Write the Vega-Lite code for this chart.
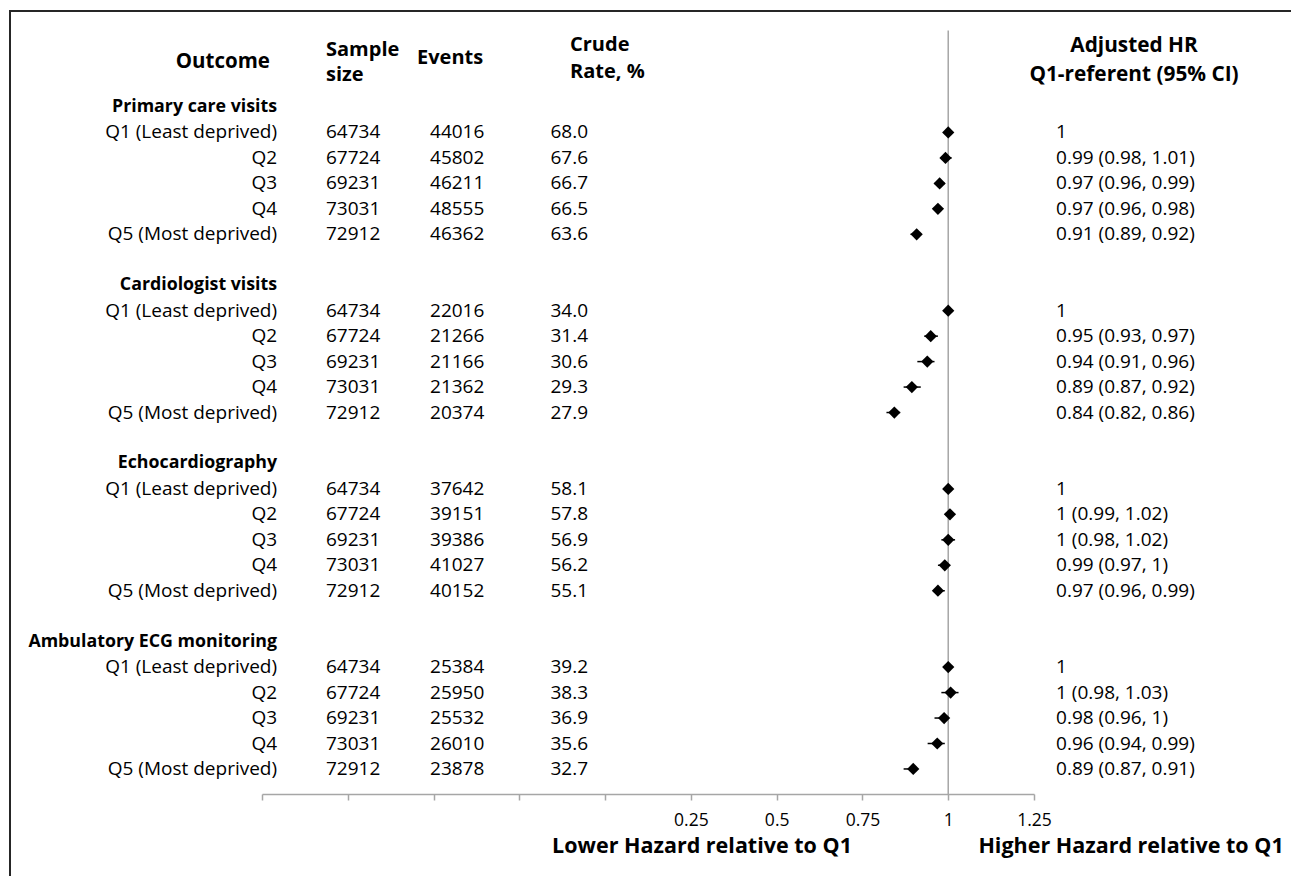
{
  "$schema": "https://vega.github.io/schema/vega-lite/v6.json",
  "usermeta": {"embedOptions": {"actions": false}},
  "autosize": {"type": "none"},
  "padding": {"left": 10, "top": 11, "right": -20, "bottom": -20},
  "width": 1301,
  "height": 885,
  "background": "white",
  "config": {
    "view": {"stroke": "#262626", "strokeWidth": 2},
    "font": "Open Sans",
    "text": {"font": "Open Sans", "fontSize": 19, "color": "#000", "baseline": "middle"}
  },
  "datasets": {
    "rows": [
      {"key": "pc_h", "type": "g", "label": "Primary care visits"},
      {"key": "pc1", "type": "q", "label": "Q1 (Least deprived)", "n": 64734, "events": 44016, "rate": 68.0, "hr": 1, "hrText": "1"},
      {"key": "pc2", "type": "q", "label": "Q2", "n": 67724, "events": 45802, "rate": 67.6, "hr": 0.992, "lo": 0.98, "hi": 1.01, "hrText": "0.99 (0.98, 1.01)"},
      {"key": "pc3", "type": "q", "label": "Q3", "n": 69231, "events": 46211, "rate": 66.7, "hr": 0.975, "lo": 0.96, "hi": 0.99, "hrText": "0.97 (0.96, 0.99)"},
      {"key": "pc4", "type": "q", "label": "Q4", "n": 73031, "events": 48555, "rate": 66.5, "hr": 0.97, "lo": 0.96, "hi": 0.98, "hrText": "0.97 (0.96, 0.98)"},
      {"key": "pc5", "type": "q", "label": "Q5 (Most deprived)", "n": 72912, "events": 46362, "rate": 63.6, "hr": 0.908, "lo": 0.89, "hi": 0.92, "hrText": "0.91 (0.89, 0.92)"},
      {"key": "cv_h", "type": "g", "label": "Cardiologist visits"},
      {"key": "cv1", "type": "q", "label": "Q1 (Least deprived)", "n": 64734, "events": 22016, "rate": 34.0, "hr": 1, "hrText": "1"},
      {"key": "cv2", "type": "q", "label": "Q2", "n": 67724, "events": 21266, "rate": 31.4, "hr": 0.949, "lo": 0.93, "hi": 0.97, "hrText": "0.95 (0.93, 0.97)"},
      {"key": "cv3", "type": "q", "label": "Q3", "n": 69231, "events": 21166, "rate": 30.6, "hr": 0.939, "lo": 0.91, "hi": 0.96, "hrText": "0.94 (0.91, 0.96)"},
      {"key": "cv4", "type": "q", "label": "Q4", "n": 73031, "events": 21362, "rate": 29.3, "hr": 0.894, "lo": 0.87, "hi": 0.92, "hrText": "0.89 (0.87, 0.92)"},
      {"key": "cv5", "type": "q", "label": "Q5 (Most deprived)", "n": 72912, "events": 20374, "rate": 27.9, "hr": 0.843, "lo": 0.82, "hi": 0.86, "hrText": "0.84 (0.82, 0.86)"},
      {"key": "ec_h", "type": "g", "label": "Echocardiography"},
      {"key": "ec1", "type": "q", "label": "Q1 (Least deprived)", "n": 64734, "events": 37642, "rate": 58.1, "hr": 1, "hrText": "1"},
      {"key": "ec2", "type": "q", "label": "Q2", "n": 67724, "events": 39151, "rate": 57.8, "hr": 1.005, "lo": 0.99, "hi": 1.02, "hrText": "1 (0.99, 1.02)"},
      {"key": "ec3", "type": "q", "label": "Q3", "n": 69231, "events": 39386, "rate": 56.9, "hr": 1.0, "lo": 0.98, "hi": 1.02, "hrText": "1 (0.98, 1.02)"},
      {"key": "ec4", "type": "q", "label": "Q4", "n": 73031, "events": 41027, "rate": 56.2, "hr": 0.99, "lo": 0.97, "hi": 1.0, "hrText": "0.99 (0.97, 1)"},
      {"key": "ec5", "type": "q", "label": "Q5 (Most deprived)", "n": 72912, "events": 40152, "rate": 55.1, "hr": 0.97, "lo": 0.96, "hi": 0.99, "hrText": "0.97 (0.96, 0.99)"},
      {"key": "am_h", "type": "g", "label": "Ambulatory ECG monitoring"},
      {"key": "am1", "type": "q", "label": "Q1 (Least deprived)", "n": 64734, "events": 25384, "rate": 39.2, "hr": 1, "hrText": "1"},
      {"key": "am2", "type": "q", "label": "Q2", "n": 67724, "events": 25950, "rate": 38.3, "hr": 1.007, "lo": 0.98, "hi": 1.03, "hrText": "1 (0.98, 1.03)"},
      {"key": "am3", "type": "q", "label": "Q3", "n": 69231, "events": 25532, "rate": 36.9, "hr": 0.988, "lo": 0.96, "hi": 1.0, "hrText": "0.98 (0.96, 1)"},
      {"key": "am4", "type": "q", "label": "Q4", "n": 73031, "events": 26010, "rate": 35.6, "hr": 0.968, "lo": 0.94, "hi": 0.99, "hrText": "0.96 (0.94, 0.99)"},
      {"key": "am5", "type": "q", "label": "Q5 (Most deprived)", "n": 72912, "events": 23878, "rate": 32.7, "hr": 0.898, "lo": 0.87, "hi": 0.91, "hrText": "0.89 (0.87, 0.91)"}
    ]
  },
  "data": {"name": "rows"},
  "encoding": {
    "y": {
      "field": "key",
      "type": "nominal",
      "axis": null,
      "scale": {
        "type": "band",
        "domain": ["top", "header", "sp", "pc_h", "pc1", "pc2", "pc3", "pc4", "pc5", "b1", "cv_h", "cv1", "cv2", "cv3", "cv4", "cv5", "b2", "ec_h", "ec1", "ec2", "ec3", "ec4", "ec5", "b3", "am_h", "am1", "am2", "am3", "am4", "am5", "axis", "ticklbl", "note"],
        "range": [6.89, 847.07],
        "paddingInner": 0,
        "paddingOuter": 0
      }
    }
  },
  "layer": [
    {
      "data": {"values": [{}]},
      "mark": {"type": "rule", "color": "#a6a6a6", "strokeWidth": 1.5},
      "encoding": {
        "x": {
          "datum": 1,
          "type": "quantitative",
          "scale": {"domain": [-1, 1.25], "range": [252, 1024], "nice": false, "zero": false},
          "axis": {
            "orient": "bottom",
            "offset": -102,
            "values": [-1, -0.75, -0.5, -0.25, 0, 0.25, 0.5, 0.75, 1, 1.25],
            "labelExpr": "datum.value > 0 ? toString(datum.value) : ''",
            "title": null,
            "grid": false,
            "domainColor": "#a6a6a6",
            "domainWidth": 1.5,
            "tickColor": "#a6a6a6",
            "tickWidth": 1.5,
            "tickSize": 6,
            "labelFont": "Open Sans",
            "labelFontSize": 17.5,
            "labelColor": "#000",
            "labelBaseline": "middle",
            "labelPadding": 20,
            "labelFlush": false,
            "labelOverlap": false
          }
        },
        "y": {"datum": "top", "type": "nominal"},
        "y2": {"datum": "axis"}
      }
    },
    {
      "transform": [{"filter": "isValid(datum.lo)"}],
      "mark": {"type": "rule", "color": "#000", "strokeWidth": 1.5},
      "encoding": {
        "x": {"field": "lo", "type": "quantitative"},
        "x2": {"field": "hi"}
      }
    },
    {
      "transform": [{"filter": "datum.type === 'q'"}],
      "mark": {"type": "point", "shape": "diamond", "filled": true, "size": 150, "color": "#000", "opacity": 1},
      "encoding": {
        "x": {"field": "hr", "type": "quantitative"}
      }
    },
    {
      "transform": [{"filter": "datum.type === 'g'"}],
      "mark": {"type": "text", "align": "right", "fontWeight": "bold", "fontSize": 17.8},
      "encoding": {
        "x": {"datum": -0.956, "type": "quantitative"},
        "text": {"field": "label", "type": "nominal"}
      }
    },
    {
      "transform": [{"filter": "datum.type === 'q'"}],
      "mark": {"type": "text", "align": "right"},
      "encoding": {
        "x": {"datum": -0.956, "type": "quantitative"},
        "text": {"field": "label", "type": "nominal"}
      }
    },
    {
      "transform": [{"filter": "datum.type === 'q'"}],
      "mark": {"type": "text", "align": "left"},
      "encoding": {
        "x": {"datum": -0.8135, "type": "quantitative"},
        "text": {"field": "n", "type": "quantitative", "format": "d"}
      }
    },
    {
      "transform": [{"filter": "datum.type === 'q'"}],
      "mark": {"type": "text", "align": "left"},
      "encoding": {
        "x": {"datum": -0.5103, "type": "quantitative"},
        "text": {"field": "events", "type": "quantitative", "format": "d"}
      }
    },
    {
      "transform": [{"filter": "datum.type === 'q'"}],
      "mark": {"type": "text", "align": "right"},
      "encoding": {
        "x": {"datum": -0.0498, "type": "quantitative"},
        "text": {"field": "rate", "type": "quantitative", "format": ".1f"}
      }
    },
    {
      "transform": [{"filter": "datum.type === 'q'"}],
      "mark": {"type": "text", "align": "left"},
      "encoding": {
        "x": {"datum": 1.3142, "type": "quantitative"},
        "text": {"field": "hrText", "type": "nominal"}
      }
    },
    {
      "data": {"values": [{}]},
      "mark": {"type": "text", "align": "right", "fontWeight": "bold", "fontSize": 20.5, "text": "Outcome", "dy": 6},
      "encoding": {
        "x": {"datum": -0.977, "type": "quantitative"},
        "y": {"datum": "header", "type": "nominal"}
      }
    },
    {
      "data": {"values": [{}]},
      "mark": {"type": "text", "align": "left", "fontWeight": "bold", "fontSize": 20, "text": ["Sample", "size"], "lineHeight": 25, "dy": -6},
      "encoding": {
        "x": {"datum": -0.8135, "type": "quantitative"},
        "y": {"datum": "header", "type": "nominal"}
      }
    },
    {
      "data": {"values": [{}]},
      "mark": {"type": "text", "align": "left", "fontWeight": "bold", "fontSize": 20, "text": "Events", "dy": 2},
      "encoding": {
        "x": {"datum": -0.5482, "type": "quantitative"},
        "y": {"datum": "header", "type": "nominal"}
      }
    },
    {
      "data": {"values": [{}]},
      "mark": {"type": "text", "align": "left", "fontWeight": "bold", "fontSize": 20, "text": ["Crude", "Rate, %"], "lineHeight": 27, "dy": -11},
      "encoding": {
        "x": {"datum": -0.1023, "type": "quantitative"},
        "y": {"datum": "header", "type": "nominal"}
      }
    },
    {
      "data": {"values": [{}]},
      "mark": {"type": "text", "align": "center", "fontWeight": "bold", "fontSize": 20.8, "text": ["Adjusted HR", "Q1-referent (95% CI)"], "lineHeight": 29, "dy": -10},
      "encoding": {
        "x": {"datum": 1.5415, "type": "quantitative"},
        "y": {"datum": "header", "type": "nominal"}
      }
    },
    {
      "data": {"values": [{}]},
      "mark": {"type": "text", "align": "center", "fontWeight": "bold", "fontSize": 21.5, "text": "Lower Hazard relative to Q1", "dy": 2},
      "encoding": {
        "x": {"datum": 0.2824, "type": "quantitative"},
        "y": {"datum": "note", "type": "nominal"}
      }
    },
    {
      "data": {"values": [{}]},
      "mark": {"type": "text", "align": "center", "fontWeight": "bold", "fontSize": 21.5, "text": "Higher Hazard relative to Q1", "dy": 2},
      "encoding": {
        "x": {"datum": 1.5328, "type": "quantitative"},
        "y": {"datum": "note", "type": "nominal"}
      }
    }
  ]
}
